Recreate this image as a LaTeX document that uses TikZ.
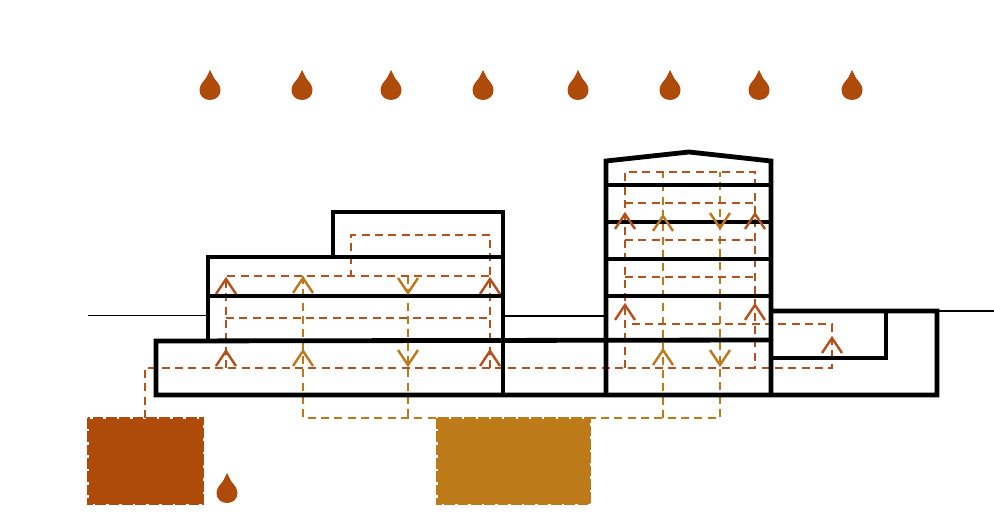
\documentclass[tikz,border=0pt]{standalone}
\definecolor{rustflow}{HTML}{B5521B}
\definecolor{goldflow}{HTML}{BC7A1A}
\definecolor{rustfill}{HTML}{AE4A0A}
\definecolor{goldfill}{HTML}{BC7A18}
\tikzset{
  wall/.style={line width=3.6pt, black, line join=miter},
  ground/.style={line width=1.4pt, black},
  rustpipe/.style={line width=1.8pt, rustflow, dash pattern=on 6pt off 4pt},
  goldpipe/.style={line width=1.8pt, goldflow, dash pattern=on 6pt off 4pt},
  rustarrow/.style={line width=1.8pt, rustflow},
  goldarrow/.style={line width=1.8pt, goldflow},
  tank/.style={line width=1pt, dash pattern=on 8pt off 2pt}
}
\newcommand{\raindrop}[2]{%
  \fill[rustfill] (#1,#2) -- ({#1-4},{#2+8}) .. controls ({#1-7},{#2+12}) and ({#1-10.5},{#2+15}) .. ({#1-10.5},{#2+20})
    .. controls ({#1-10.5},{#2+26}) and ({#1-6},{#2+30}) .. (#1,{#2+30})
    .. controls ({#1+6},{#2+30}) and ({#1+10.5},{#2+26}) .. ({#1+10.5},{#2+20})
    .. controls ({#1+10.5},{#2+15}) and ({#1+7},{#2+12}) .. ({#1+4},{#2+8}) -- cycle;}
\begin{document}
\begin{tikzpicture}[x=0.75pt, y=-0.75pt]
    \useasboundingbox (0,0) rectangle (994,516);

    % Rain
    \foreach \x in {210,302,391,483,578,670,759,852}
      \raindrop{\x}{70};
    \raindrop{227}{473};

    % Tanks
    \fill[rustfill] (88.5,418.5) rectangle (202.5,503.5);
    \draw[tank, rustfill] (88,418) rectangle (203,504);
    \fill[goldfill] (437.5,418.5) rectangle (589.5,504);
    \draw[tank, goldfill] (437,418) rectangle (590,504);

    % Gold supply
    \draw[goldpipe] (303,276) -- (303,418) -- (720,418) -- (720,172);
    \draw[goldpipe] (408,276) -- (408,418);
    \draw[goldpipe] (663,418) -- (663,172);

    % Rust supply, low block
    \draw[rustpipe] (145,418) -- (145,368) -- (832,368) -- (832,324) -- (625,324);
    \draw[rustpipe] (226,368) -- (226,276) -- (490,276);
    \draw[rustpipe] (226,318) -- (490,318);
    \draw[rustpipe] (490,368) -- (490,235) -- (351,235) -- (351,276);

    % Rust supply, tower
    \draw[rustpipe] (625,368) -- (625,172) -- (755,172) -- (755,368);
    \foreach \y in {203,240,277}
      \draw[rustpipe] (625,\y) -- (755,\y);

    % Low block
    \draw[wall] (771,340) -- (156,341) -- (156,395) -- (937,395) -- (937,311) -- (771,311);
    \draw[wall] (208,341) -- (208,257) -- (503,257);
    \draw[wall] (208,296) -- (503,296);
    \draw[wall] (333,257) -- (333,212) -- (503,212) -- (503,395);

    % Tower
    \draw[wall] (606,395) -- (606,161) -- (689,152) -- (771,161) -- (771,395);
    \foreach \y in {185,222,259,296}
      \draw[wall] (606,\y) -- (771,\y);

    % Annex
    \draw[wall] (771,358) -- (886,358) -- (886,311);

    % Ground
    \draw[ground] (88,315.5) -- (207,315.5);
    \draw[ground] (505,316) -- (605,316);
    \draw[ground] (938,311) -- (994,311);

    % Arrows up
    \foreach \x/\y in {226/279,490/279,226/351,490/351,625/214,755/214,625/305,755/305,832/338}
      \draw[rustarrow] ({\x-10},{\y+15}) -- (\x,\y) -- ({\x+10},{\y+15});
    \foreach \x/\y in {303/278,303/351,663/216,663/350}
      \draw[goldarrow] ({\x-10},{\y+15}) -- (\x,\y) -- ({\x+10},{\y+15});

    % Arrows down
    \foreach \x/\y in {408/293,408/365,720/228,720/365}
      \draw[goldarrow] ({\x-10},{\y-15}) -- (\x,\y) -- ({\x+10},{\y-15});
\end{tikzpicture}
\end{document}
